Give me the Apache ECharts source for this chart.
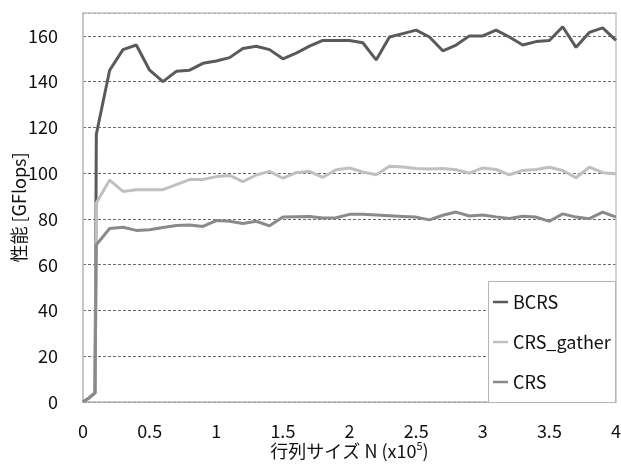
<!DOCTYPE html>
<html>
<head>
<meta charset="utf-8">
<script src="https://cdn.jsdelivr.net/npm/echarts@6/dist/echarts.min.js"></script>
<style>html,body{margin:0;padding:0;background:#fff;}#c{width:621px;height:464px;}</style>
</head>
<body>
<div id="c"></div>
<script>
const xValues = [0, 0.05, 0.09, 0.1, 0.2, 0.3, 0.4, 0.5, 0.6, 0.7, 0.8, 0.9, 1.0,
  1.1, 1.2, 1.3, 1.4, 1.5, 1.6, 1.7, 1.8, 1.9, 2.0, 2.1, 2.2, 2.3, 2.4, 2.5, 2.6,
  2.7, 2.8, 2.9, 3.0, 3.1, 3.2, 3.3, 3.4, 3.5, 3.6, 3.7, 3.8, 3.9, 4.0];
const bcrs = [0, 2, 4, 117, 145, 154, 156, 145, 140, 144.5, 145, 148, 149,
  150.5, 154.5, 155.5, 154, 150, 152.5, 155.5, 158, 158, 158, 157, 149.5, 159.5, 161, 162.5, 159.5,
  153.5, 156, 160, 160, 162.5, 159.5, 156, 157.5, 158, 164, 155, 161.5, 163.5, 158];
const crsGather = [0, 2, 4, 87, 97, 92, 92.8, 92.8, 92.8, 95, 97.2, 97.2, 98.5,
  99, 96.3, 99.2, 100.8, 97.8, 100.2, 100.8, 98.2, 101.5, 102.3, 100.5, 99.3, 103, 102.7, 102, 101.8,
  102, 101.5, 100, 102.3, 101.6, 99.3, 101.2, 101.6, 102.6, 101.2, 98, 102.6, 100.2, 99.7];
const crs = [0, 2, 4, 68.7, 75.8, 76.4, 75, 75.3, 76.3, 77.1, 77.4, 76.7, 79.3,
  79, 78, 79, 77, 80.8, 81, 81.1, 80.4, 80.5, 82, 82, 81.7, 81.4, 81.1, 80.8, 79.6,
  81.6, 83, 81.3, 81.7, 80.9, 80.2, 81.2, 80.8, 79, 82.2, 80.8, 80.1, 83, 80.8];
const seriesNames = ['BCRS', 'CRS_gather', 'CRS'];
const xTicks = [0, 0.5, 1, 1.5, 2, 2.5, 3, 3.5, 4];

const FONT = "'Noto Sans CJK JP', 'Noto Sans', sans-serif";
const TXT = '#111';
const colors = ['#5a5a5a', '#c0c0c0', '#8a8a8a'];
const pairs = (ys) => xValues.map((x, i) => [x, ys[i]]);

const chart = echarts.init(document.getElementById('c'));
chart.setOption({
  animation: false,
  backgroundColor: '#fff',
  textStyle: { fontFamily: FONT },
  grid: { left: 83, right: 5, top: 13, bottom: 62, containLabel: false, outerBoundsMode: 'none' },
  xAxis: [{
    type: 'value', min: 0, max: 4, interval: 0.5,
    axisLine: { show: true, lineStyle: { color: '#b4b4b4', width: 1.5 } },
    axisTick: { show: false },
    splitLine: { show: false },
    axisLabel: { margin: 20, fontSize: 18, color: TXT, fontFamily: FONT,
      formatter: (v) => xTicks.includes(v) ? String(v) : '' },
    name: '{a|行列サイズ N (x10}{s|5}{a|)}',
    nameLocation: 'middle', nameGap: 38, nameMoveOverlap: false,
    nameTextStyle: {
      rich: {
        a: { fontSize: 18, color: TXT, fontFamily: FONT, lineHeight: 22 },
        s: { fontSize: 11, color: TXT, fontFamily: FONT, verticalAlign: 'top', lineHeight: 22 }
      }
    }
  }, {
    type: 'value', min: 0, max: 4, position: 'top', z: 3,
    axisLine: { show: true, onZero: false, lineStyle: { color: '#c4c4c4', width: 1.5 } },
    axisTick: { show: false }, axisLabel: { show: false }, splitLine: { show: false }
  }],
  yAxis: [{
    type: 'value', min: 0, max: 170, interval: 20,
    axisLine: { show: true, lineStyle: { color: '#b4b4b4', width: 1.5 } },
    axisTick: { show: false },
    splitLine: { show: true, lineStyle: { color: '#6a6a6a', width: 1, type: [3, 2] } },
    axisLabel: { margin: 25, fontSize: 18, color: TXT, fontFamily: FONT, showMaxLabel: false },
    name: '性能 [GFlops]',
    nameLocation: 'middle', nameGap: 55, nameMoveOverlap: false,
    nameTextStyle: { fontSize: 18, color: TXT, fontFamily: FONT }
  }, {
    type: 'value', min: 0, max: 170, position: 'right', z: 3,
    axisLine: { show: true, onZero: false, lineStyle: { color: '#c4c4c4', width: 1.5 } },
    axisTick: { show: false }, axisLabel: { show: false }, splitLine: { show: false }
  }],
  graphic: [{
    type: 'rect', z: 10,
    shape: { x: 488.5, y: 281.5, width: 127, height: 121 },
    style: { fill: '#fff', stroke: '#b4b4b4', lineWidth: 1 }
  }],
  legend: {
    z: 11,
    orient: 'vertical',
    left: 493, top: 292,
    itemGap: 20,
    itemWidth: 15, itemHeight: 2.5,
    icon: 'rect',
    padding: 0,
    textStyle: { fontSize: 18, color: TXT, fontFamily: FONT, lineHeight: 20 },
    data: seriesNames
  },
  series: [
    { name: seriesNames[0], type: 'line', data: pairs(bcrs), showSymbol: false, symbol: 'none',
      lineStyle: { color: colors[0], width: 3 }, itemStyle: { color: colors[0] } },
    { name: seriesNames[1], type: 'line', data: pairs(crsGather), showSymbol: false, symbol: 'none',
      lineStyle: { color: colors[1], width: 3 }, itemStyle: { color: colors[1] } },
    { name: seriesNames[2], type: 'line', data: pairs(crs), showSymbol: false, symbol: 'none',
      lineStyle: { color: colors[2], width: 3 }, itemStyle: { color: colors[2] } }
  ]
});
</script>
</body>
</html>
